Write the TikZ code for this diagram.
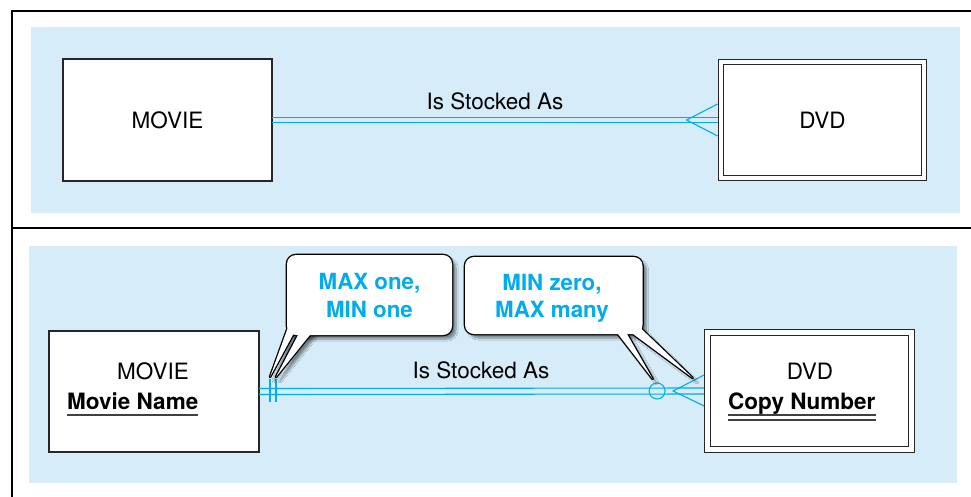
\documentclass[tikz,border=0pt]{standalone}
\usepackage{fontspec}
\setmainfont{TeX Gyre Heros}
\usetikzlibrary{shadows.blur,calc}
\definecolor{bgblue}{RGB}{214,236,249}
\definecolor{erline}{RGB}{0,172,236}
\begin{document}
\begin{tikzpicture}[x=1pt,y=-1pt,
  every node/.style={font=\fontsize{22.5}{27}\selectfont},
  entity/.style={draw=black!85, line width=1.2pt, fill=white, inner sep=0pt, outer sep=0pt},
  weakentity/.style={entity, double, double distance=4.4pt, outer sep=3.4pt},
  rel/.style={draw=erline, line width=1.1pt},
  frameline/.style={draw=black, line width=1.5pt},
  txt/.style={anchor=base, inner sep=0pt},
  keytxt/.style={anchor=base west, inner sep=0pt, font=\bfseries\fontsize{22.5}{27}\selectfont},
  uline/.style={draw=black!75, line width=1.2pt},
  cbox/.style={draw=black, line width=2.6pt, fill=white, rounded corners=9pt, inner sep=0pt, outer sep=0pt,
     blur shadow={shadow xshift=4pt, shadow yshift=-4pt, shadow blur steps=8, shadow opacity=45}},
  cshadow/.style={blur shadow={shadow xshift=4pt, shadow yshift=-4pt, shadow blur steps=8, shadow opacity=45}},
  ctail/.style={draw=black, line width=2.6pt, line join=round},
  ctxt/.style={anchor=base, inner sep=0pt, text=erline, font=\bfseries\fontsize{22.3}{26}\selectfont}]
\useasboundingbox (0,0) rectangle (971,496);
% panels
\fill[bgblue] (31,27) rectangle (960,213);
\fill[bgblue] (29,246) rectangle (957,483);
% frame
\draw[frameline] (12,497) -- (12,11) -- (972,11);
\draw[frameline] (12,228) -- (972,228);

% ---------- top diagram ----------
\node[entity, minimum width=209pt, minimum height=122pt] (m1) at (167.5,120) {MOVIE};
\node[weakentity, minimum width=203pt, minimum height=116pt] (d1) at (822.5,120) {DVD};
\draw[rel] ([yshift=2.7pt]m1.east) -- ([yshift=2.7pt]d1.west);
\draw[rel] ([yshift=-2.7pt]m1.east) -- ([yshift=-2.7pt]d1.west);
\draw[rel] ([yshift=16pt]d1.west) -- ([xshift=-31pt]d1.west) -- ([yshift=-16pt]d1.west);
\node[txt] (r1) at (495,109) {Is Stocked As};

% ---------- bottom diagram ----------
\node[entity, minimum width=210pt, minimum height=121pt] (m2) at (154,391.5) {};
\node[txt] (m2t) at (153,379) {MOVIE};
\node[keytxt] (m2k) at (67,409) {Movie Name};
\draw[uline] ([yshift=-6pt]m2k.base west) -- ([yshift=-6pt]m2k.base east);

\node[weakentity, minimum width=204pt, minimum height=117pt] (d2) at (809.5,391) {};
\node[txt] (d2t) at (810,379) {DVD};
\node[keytxt] (d2k) at (728,409) {Copy Number};
\draw[uline] ([yshift=-6pt]d2k.base west) -- ([yshift=-6pt]d2k.base east);
\draw[uline] ([yshift=-11pt]d2k.base west) -- ([yshift=-11pt]d2k.base east);

\draw[rel] ([yshift=3pt]m2.east) -- ([yshift=3pt]d2.west);
\draw[rel] ([yshift=-3pt]m2.east) -- ([yshift=-3pt]d2.west);
\draw[rel] ([xshift=11pt,yshift=12.5pt]m2.east) -- ([xshift=11pt,yshift=-10.5pt]m2.east);
\draw[rel] ([xshift=17pt,yshift=12.5pt]m2.east) -- ([xshift=17pt,yshift=-10.5pt]m2.east);
\node[rel, circle, minimum size=16pt, inner sep=0pt] (zero) at ([xshift=-47pt]d2.west) {};
\draw[rel] ([yshift=16pt]d2.west) -- ([xshift=-31pt]d2.west) -- ([yshift=-15pt]d2.west);
\node[txt] (r2) at (481,378) {Is Stocked As};

% ---------- callout 1 ----------
\coordinate (t1a) at (270,377);
\coordinate (t1b) at (276,377);
\path[cshadow] (290.4,320.5) -- (t1a) -- (296.7,327.9) -- cycle
               (300.8,329.7) -- (t1b) -- (313.7,330.3) -- cycle;
\node[cbox, minimum width=165pt, minimum height=80pt] (c1) at (369.5,295) {};
\draw[ctail] (290.4,320.5) -- (t1a) -- (296.7,327.9) -- cycle
             (300.8,329.7) -- (t1b) -- (313.7,330.3) -- cycle;
\fill[white, rounded corners=9pt] (c1.south west) rectangle (c1.north east);
\fill[white] (290.4,320.5) -- (t1a) -- (296.7,327.9) -- cycle
             (300.8,329.7) -- (t1b) -- (313.7,330.3) -- cycle;
\node[ctxt] (c1a) at (369.5,289) {MAX one,};
\node[ctxt] (c1b) at (369.5,317) {MIN one};

% ---------- callout 2 ----------
\coordinate (t2a) at (652.7,379);
\coordinate (t2b) at (692.7,378);
\path[cshadow] (614.3,329.2) -- (t2a) -- (624,328.8) -- cycle
               (628.2,330.4) -- (t2b) -- (638.2,325.8) -- cycle;
\node[cbox, minimum width=177.5pt, minimum height=77pt] (c2) at (553.75,295.5) {};
\draw[ctail] (614.3,329.2) -- (t2a) -- (624,328.8) -- cycle
             (628.2,330.4) -- (t2b) -- (638.2,325.8) -- cycle;
\fill[white, rounded corners=9pt] (c2.south west) rectangle (c2.north east);
\fill[white] (614.3,329.2) -- (t2a) -- (624,328.8) -- cycle
             (628.2,330.4) -- (t2b) -- (638.2,325.8) -- cycle;
\node[ctxt] (c2a) at (552,290) {MIN zero,};
\node[ctxt] (c2b) at (552,317) {MAX many};
\end{tikzpicture}
\end{document}
